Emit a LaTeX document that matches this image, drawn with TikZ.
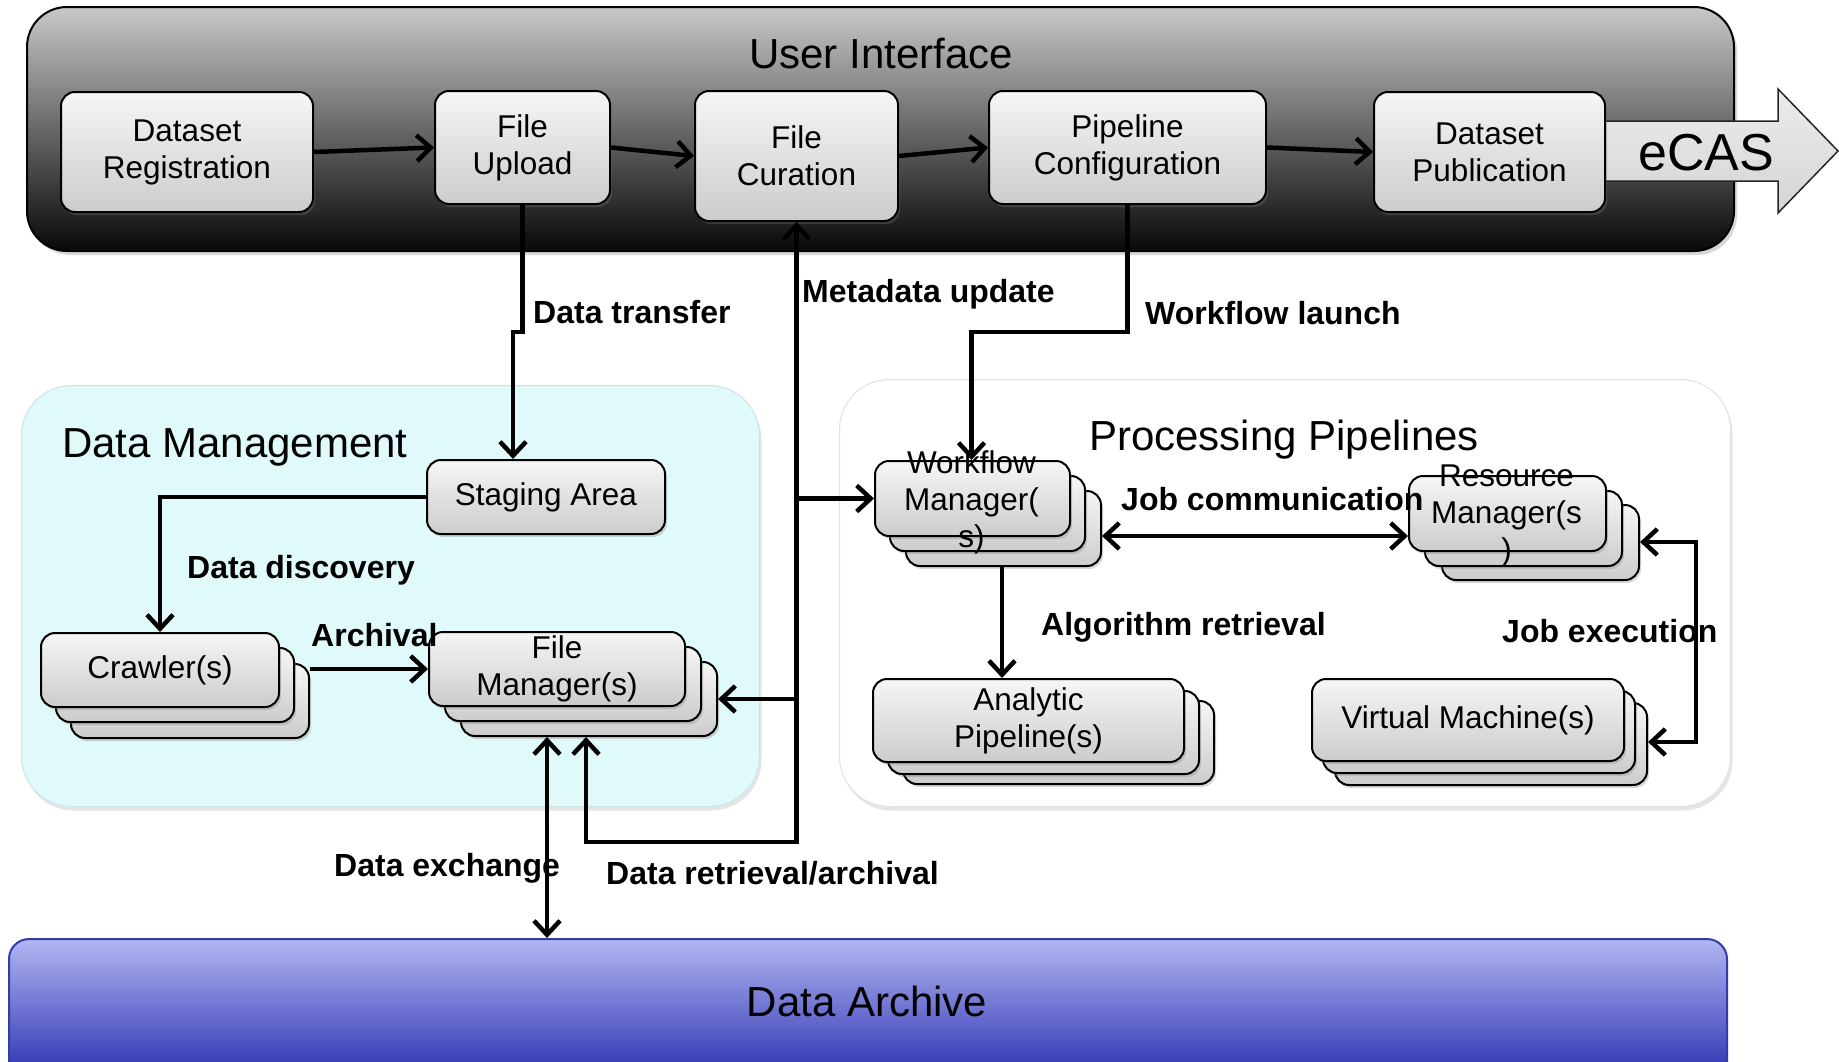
\documentclass[tikz,border=0pt]{standalone}
\usepackage{fontspec}
\setmainfont{Liberation Sans}
\usetikzlibrary{arrows.meta,shadows}
\definecolor{uitop}{RGB}{200,200,200}
\definecolor{uibot}{RGB}{8,8,8}
\definecolor{bxtop}{RGB}{246,246,246}
\definecolor{bxbot}{RGB}{204,204,204}
\definecolor{ectop}{RGB}{236,236,236}
\definecolor{ecbot}{RGB}{212,212,212}
\definecolor{dmfill}{RGB}{224,249,250}
\definecolor{dmline}{RGB}{205,228,230}
\definecolor{ppline}{RGB}{226,226,226}
\definecolor{datop}{RGB}{178,182,242}
\definecolor{dabot}{RGB}{22,29,167}
\definecolor{daline}{RGB}{52,60,170}
\newcommand\nfont{\fontsize{31.5}{37}\selectfont}
\newcommand\tfont{\fontsize{42}{50}\selectfont}
\newcommand\lfont{\bfseries\fontsize{32}{38}\selectfont}
\begin{document}
\begin{tikzpicture}[x=1pt,y=-1pt,
  box/.style={draw=black,line width=2pt,rounded corners=14pt,top color=bxtop,bottom color=bxbot,
    inner sep=0pt,anchor=north west,align=center,font=\nfont,
    drop shadow={shadow xshift=2pt,shadow yshift=-3pt,opacity=0.3}},
  txt/.style={font=\nfont,align=center,inner sep=0pt},
  ttl/.style={font=\tfont,inner sep=0pt},
  lbl/.style={font=\lfont,inner sep=0pt,anchor=base west},
  arr/.style={line width=4.5pt,-{Straight Barb[length=14pt,width=26pt]}},
  arrb/.style={line width=4.5pt,{Straight Barb[length=14pt,width=26pt]}-{Straight Barb[length=14pt,width=26pt]}},
  cont/.style={anchor=north west,inner sep=0pt,rounded corners=50pt}
]
\useasboundingbox (0,0) rectangle (1839,1061);
\clip (0,0) rectangle (1839,1061);
\fill[white] (0,0) rectangle (1839,1061);

% containers
\node[cont,minimum width=738pt,minimum height=421pt,fill=dmfill,draw=dmline,line width=1pt,
  drop shadow={shadow xshift=2pt,shadow yshift=-4pt,opacity=0.2}] (dm) at (21,385) {};
\node[cont,minimum width=891pt,minimum height=427pt,fill=white,draw=ppline,line width=1pt,
  drop shadow={shadow xshift=2pt,shadow yshift=-4pt,opacity=0.2}] (pp) at (839,379) {};
\node[anchor=north west,inner sep=0pt,rounded corners=20pt,minimum width=1718pt,minimum height=160pt,
  top color=datop,bottom color=dabot,draw=daline,line width=2pt] (da) at (8,938) {};
\node[anchor=north west,inner sep=0pt,rounded corners=40pt,minimum width=1707pt,minimum height=244pt,
  top color=uitop,bottom color=uibot,draw=black,line width=2pt,
  drop shadow={shadow xshift=3pt,shadow yshift=-4pt,opacity=0.3}] (ui) at (26,6) {};

% titles
\node[ttl,anchor=base] (uit) at (881,68) {User Interface};
\node[ttl,anchor=base west] (dmt) at (62,457) {Data Management};
\node[ttl,anchor=base] (ppt) at (1284,450) {Processing Pipelines};
\node[ttl,anchor=base] (dat) at (867,1016) {Data Archive};

% eCAS arrow
\path[draw=black!85,line width=1.5pt,top color=ectop,bottom color=ecbot]
  (1560,121) -- (1778,121) -- (1778,89) -- (1838,151) -- (1778,213) -- (1778,181) -- (1560,181) -- cycle;
\node[font=\fontsize{52}{62}\selectfont,anchor=base,inner sep=0pt] (ecas) at (1706,170) {eCAS};

% UI boxes
\node[box,minimum width=252pt,minimum height=120pt] (dr) at (60,91) {Dataset\\Registration};
\node[box,minimum width=175pt,minimum height=113pt] (fu) at (434,90) {File\\Upload};
\node[box,minimum width=203pt,minimum height=130pt] (fc) at (694,90) {File\\Curation};
\node[box,minimum width=277pt,minimum height=113pt] (pc) at (988,90) {Pipeline\\Configuration};
\node[box,minimum width=231pt,minimum height=120pt] (dp) at (1373,91) {Dataset\\Publication};

% data management
\node[box,minimum width=238pt,minimum height=74pt] (sa) at (426,459) {Staging Area};
\node[box,minimum width=238pt,minimum height=74pt] (cr3) at (70,663) {};
\node[box,minimum width=238pt,minimum height=74pt] (cr2) at (55,647) {};
\node[box,minimum width=238pt,minimum height=74pt] (cr) at (40,632) {Crawler(s)};
\node[box,minimum width=256pt,minimum height=74pt] (fm3) at (460,661) {};
\node[box,minimum width=256pt,minimum height=74pt] (fm2) at (444,646) {};
\node[box,minimum width=256pt,minimum height=74pt] (fm) at (428,631) {File\\Manager(s)};

% processing pipelines
\node[box,minimum width=195pt,minimum height=75pt] (wm3) at (905,490) {};
\node[box,minimum width=195pt,minimum height=75pt] (wm2) at (889,475) {};
\node[box,minimum width=195pt,minimum height=75pt] (wm) at (874,460) {};
\node[txt] (wmt) at (971.5,502) {Workflow\\Manager(\\s)};
\node[box,minimum width=197pt,minimum height=75pt] (rm3) at (1441,504) {};
\node[box,minimum width=197pt,minimum height=75pt] (rm2) at (1424,490) {};
\node[box,minimum width=197pt,minimum height=75pt] (rm) at (1408,475) {};
\node[txt] (rmt) at (1506.5,516) {Resource\\Manager(s\\)};
\node[box,minimum width=311pt,minimum height=83pt] (ap3) at (902,700) {};
\node[box,minimum width=311pt,minimum height=83pt] (ap2) at (887,690) {};
\node[box,minimum width=311pt,minimum height=83pt] (ap) at (872,678) {Analytic\\Pipeline(s)};
\node[box,minimum width=312pt,minimum height=82pt] (vm3) at (1334,702) {};
\node[box,minimum width=312pt,minimum height=82pt] (vm2) at (1322,690) {};
\node[box,minimum width=312pt,minimum height=82pt] (vm) at (1311,678) {Virtual Machine(s)};

% connectors
\draw[arr] (dr.east) -- (fu.west);
\draw[arr] (fu.east) -- (fc.west);
\draw[arr] (fc.east) -- (pc.west);
\draw[arr] (pc.east) -- (dp.west);

\coordinate (dtj) at (513,332);
\draw[arr] (fu.south) |- (dtj) -- (dtj |- sa.north);
\coordinate (wlj) at (971.5,332);
\draw[arr] (pc.south) |- (wlj) -- (wlj |- wm.north);

\draw[arr] (sa.west) -| (cr.north);
\draw[arr] (fm.west -| cr3.east) -- (fm.west);

\coordinate (mdy) at (0,842);
\coordinate (mdl) at (586,842);
\coordinate (mdr) at (fc.south |- mdy);
\draw[arrb] (mdl |- fm3.south) -- (mdl) -- (mdr) -- (fc.south);
\draw[arr] (fc.south |- wm.west) -- (wm.west);
\draw[arr] (fc.south |- fm3.east) -- (fm3.east);

\coordinate (dxc) at (547,800);
\draw[arrb] (dxc |- fm3.south) -- (dxc |- da.north);

\coordinate (jcy) at (0,536);
\draw[arrb] (wm3.east |- jcy) -- (rm.west |- jcy);

\coordinate (arx) at (1002,0);
\draw[arr] (arx |- wm3.south) -- (arx |- ap.north);

\coordinate (jex) at (1696,0);
\coordinate (jey1) at (0,542);
\coordinate (jey2) at (0,742);
\draw[arrb] (rm3.east |- jey1) -- (jex |- jey1) -- (jex |- jey2) -- (vm3.east |- jey2);

% labels
\node[lbl] (l1) at (533,323) {Data transfer};
\node[lbl] (l2) at (802,302) {Metadata update};
\node[lbl] (l3) at (1145,324) {Workflow launch};
\node[lbl] (l4) at (187,578) {Data discovery};
\node[lbl] (l5) at (311,646) {Archival};
\node[lbl] (l6) at (1121,510) {Job communication};
\node[lbl] (l7) at (1041,635) {Algorithm retrieval};
\node[lbl] (l8) at (1502,642) {Job execution};
\node[lbl] (l9) at (334,876) {Data exchange};
\node[lbl] (l10) at (606,884) {Data retrieval/archival};
\end{tikzpicture}
\end{document}
